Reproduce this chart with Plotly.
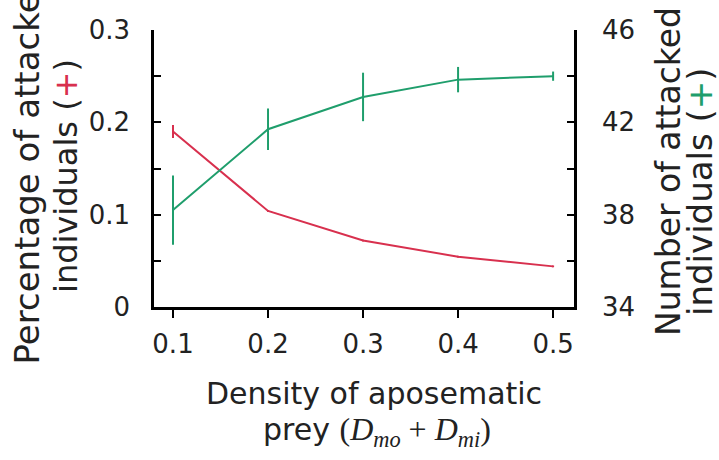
import plotly.graph_objects as go

# ---- data ----
density = [0.1, 0.2, 0.3, 0.4, 0.5]
pct_attacked = [0.190, 0.104, 0.072, 0.0545, 0.044]
pct_err = [0.007, 0.001, 0.001, 0.001, 0.001]
num_attacked = [38.2, 41.7, 43.1, 43.85, 44.0]
num_err = [1.5, 0.9, 1.05, 0.55, 0.2]

x_ticks = [0.1, 0.2, 0.3, 0.4, 0.5]
x_ticktext = ["0.1", "0.2", "0.3", "0.4", "0.5"]
y1_ticks = [0, 0.1, 0.2, 0.3]
y1_ticktext = ["0", "0.1", "0.2", "0.3"]
y2_ticks = [34, 38, 42, 46]
y2_ticktext = ["34", "38", "42", "46"]

RED = "#d8304e"
GREEN = "#1f9e6c"
FONT = "DejaVu Sans"
TXT = "#222222"

fig = go.Figure()
fig.add_trace(go.Scatter(
    x=density, y=pct_attacked, mode="lines",
    line=dict(color=RED, width=2),
    error_y=dict(type="data", array=pct_err, color=RED, thickness=2, width=0),
    showlegend=False, yaxis="y"))
fig.add_trace(go.Scatter(
    x=density, y=num_attacked, mode="lines",
    line=dict(color=GREEN, width=2),
    error_y=dict(type="data", array=num_err, color=GREEN, thickness=2, width=0),
    showlegend=False, yaxis="y2"))

axis_common = dict(showline=True, linecolor="black", linewidth=2.5, showgrid=False,
                   zeroline=False, tickcolor="black", tickwidth=2,
                   tickfont=dict(family=FONT, size=26, color=TXT))

fig.update_layout(
    width=719, height=460,
    margin=dict(l=154, r=145, t=30, b=153),
    plot_bgcolor="white", paper_bgcolor="white",
    xaxis=dict(range=[0.08, 0.522], tickvals=x_ticks, ticktext=x_ticktext,
               ticks="outside", ticklen=8, ticklabelstandoff=4, **axis_common),
    yaxis=dict(range=[0, 0.3], tickvals=y1_ticks, ticktext=y1_ticktext,
               ticks="inside", ticklen=7, ticklabelstandoff=16,
               minor=dict(tickvals=[0.05, 0.15, 0.25], ticks="inside", ticklen=7,
                          tickwidth=2, tickcolor="black"),
               **axis_common),
    yaxis2=dict(range=[34, 46], tickvals=y2_ticks, ticktext=y2_ticktext,
                overlaying="y", side="right",
                ticks="inside", ticklen=7, ticklabelstandoff=20,
                minor=dict(tickvals=[36, 40, 44], ticks="inside", ticklen=7,
                           tickwidth=2, tickcolor="black"),
                **axis_common),
)

def ann(text, x, y, size, angle=0):
    fig.add_annotation(text=text, x=x, y=y, xref="paper", yref="paper",
                       xanchor="center", yanchor="middle", showarrow=False,
                       textangle=angle, font=dict(family=FONT, size=size, color=TXT))

# pixel -> paper helpers (plot area: x 154..574, y 30..307)
def px(xp):
    return (xp - 154) / 420.0

def py(yp):
    return (307 - yp) / 277.0

ann("Percentage of attacked", px(26.5), py(168), 34, -90)
ann("individuals (<span style='color:%s'>+</span>)" % RED, px(66), py(176), 32, -90)
ann("Number of attacked", px(668), py(172), 33, -90)
ann("individuals (<span style='color:%s'>+</span>)" % GREEN, px(700), py(192), 34, -90)

ann("Density of aposematic", px(374), py(393), 30)
ann("prey <span style='font-family:Liberation Serif;font-size:32px'>(<i>D</i><sub><i>mo</i></sub> + "
    "<i>D</i><sub><i>mi</i></sub>)</span>", px(377), py(431), 30)

fig.write_html("out.html")
